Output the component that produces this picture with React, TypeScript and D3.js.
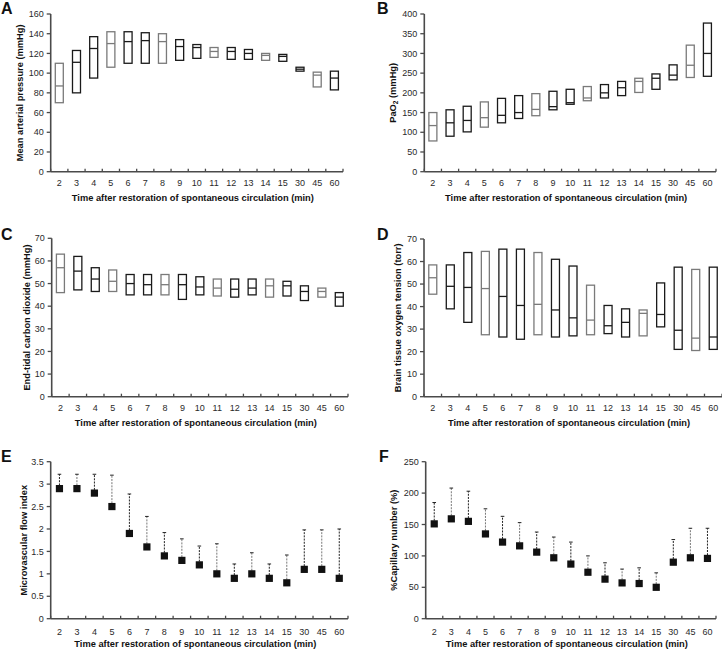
import React from "react";
import * as d3 from "d3";

const times = ["2", "3", "4", "5", "6", "7", "8", "9", "10", "11", "12", "13", "14", "15", "30", "45", "60"];

// A: Mean arterial pressure (mmHg) - box (low, median, high)
const mapLow = [70, 80, 95, 106, 110, 110, 110, 113, 115, 116, 114, 114, 113, 112, 102, 86, 83];
const mapMid = [87, 111, 125, 130, 132, 133, 132, 127, 126, 122, 122, 120, 118, 117, 104, 98, 95];
const mapHigh = [110, 123, 137, 142, 142, 141, 140, 134, 129, 126, 126, 124, 120, 119, 106, 101, 102];

// B: PaO2 (mmHg)
const paoLow = [78, 90, 101, 113, 124, 135, 142, 157, 171, 180, 187, 193, 201, 209, 233, 239, 242];
const paoMid = [117, 124, 130, 137, 143, 150, 158, 165, 175, 187, 200, 213, 229, 237, 245, 270, 300];
const paoHigh = [150, 157, 166, 177, 186, 193, 198, 204, 209, 216, 221, 229, 237, 248, 271, 321, 377];

// C: End-tidal carbon dioxide (mmHg)
const etLow = [46, 47.2, 46.5, 46.5, 45, 45, 45, 43, 45, 44.5, 44, 45, 44, 44.5, 42.5, 44, 40];
const etMid = [57, 55.5, 52, 51, 50, 49.5, 49.5, 49.5, 48.5, 48, 47.5, 48, 49, 49, 46.5, 46.5, 44];
const etHigh = [63, 62, 57, 56, 54, 54, 54, 54, 53, 52, 52, 52, 52, 51, 49, 48, 46];

// D: Brain tissue oxygen tension (torr)
const btLow = [45.5, 39, 33, 27.5, 26.5, 25.5, 27.5, 26.5, 27, 27.5, 28, 26.5, 27, 31, 21, 20.5, 21];
const btMid = [52.8, 49, 48.5, 48, 44.5, 40.5, 41, 38.5, 35, 34, 31.5, 33, 37, 36.5, 29.5, 26, 26.5];
const btHigh = [58.5, 58.5, 64, 64.5, 65.5, 65.5, 64, 61, 58, 49.5, 40.5, 39, 38.5, 50.5, 57.5, 56.5, 57.5];

// E: Microvascular flow index (mean, upper error)
const mfiMean = [2.9, 2.9, 2.8, 2.5, 1.9, 1.6, 1.4, 1.3, 1.2, 1.0, 0.9, 1.0, 0.9, 0.8, 1.1, 1.1, 0.9];
const mfiUpper = [3.22, 3.22, 3.22, 3.2, 2.78, 2.28, 1.92, 1.78, 1.62, 1.67, 1.22, 1.47, 1.22, 1.42, 1.98, 1.98, 2.0];

// F: %Capillary number (mean, upper error)
const capMean = [151, 159, 155, 135, 122, 116, 106, 97, 87, 74, 63, 57, 56, 50, 90, 97, 96];
const capUpper = [185, 208, 203, 175, 163, 153, 138, 130, 122, 100, 89, 79, 81, 73, 126, 144, 144];

const xTitle = "Time after restoration of spontaneous circulation (min)";
const FONT = "'Liberation Sans', Arial, Helvetica, sans-serif";

type PanelProps = {
  letter: string;
  letterX: number;
  letterY: number;
  left: number;
  right: number;
  top: number;
  bottom: number;
  max: number;
  step: number;
  yTitle: React.ReactNode;
  yTitleX: number;
  labelDy: number;
  titleDy: number;
  kind: "box" | "err";
  a: number[];
  b: number[];
  c?: number[];
};

function Panel(p: PanelProps) {
  const x = d3.scaleBand<string>().domain(times).range([p.left, p.right]);
  const y = d3.scaleLinear().domain([0, p.max]).range([p.bottom, p.top]);
  const ticks = d3.range(0, p.max + p.step / 2, p.step);
  const bw = x.bandwidth();
  const boxW = 8;
  const axisColor = "#4a4a4a";
  const textColor = "#2a2a2a";
  const cy = (p.top + p.bottom) / 2;
  return (
    <g fontFamily={FONT}>
      <text x={p.letterX} y={p.letterY} fontSize={16} fontWeight="bold" fill="#111">
        {p.letter}
      </text>
      {/* y axis */}
      <line x1={p.left} x2={p.left} y1={p.top} y2={p.bottom} stroke={axisColor} strokeWidth={1.6} />
      {ticks.map((t) => (
        <g key={t}>
          <line x1={p.left - 4} x2={p.left} y1={y(t)} y2={y(t)} stroke={axisColor} strokeWidth={1.3} />
          <text x={p.left - 7} y={y(t)} dy="0.35em" textAnchor="end" fontSize={9} fill={textColor}>
            {String(t)}
          </text>
        </g>
      ))}
      {/* x axis */}
      <line x1={p.left} x2={p.right} y1={p.bottom} y2={p.bottom} stroke={axisColor} strokeWidth={1.6} />
      {d3.range(times.length + 1).map((i) => (
        <line
          key={i}
          x1={p.left + i * bw}
          x2={p.left + i * bw}
          y1={p.bottom}
          y2={p.bottom - 3}
          stroke={axisColor}
          strokeWidth={1.3}
        />
      ))}
      {times.map((t) => (
        <text
          key={t}
          x={(x(t) as number) + bw / 2}
          y={p.bottom + p.labelDy}
          textAnchor="middle"
          fontSize={9}
          fill={textColor}
        >
          {t}
        </text>
      ))}
      <text
        x={(p.left + p.right) / 2 - 4}
        y={p.bottom + p.titleDy}
        textAnchor="middle"
        fontSize={9.3}
        fontWeight="bold"
        fill="#111"
      >
        {xTitle}
      </text>
      <text
        transform={`translate(${p.yTitleX},${cy}) rotate(-90)`}
        textAnchor="middle"
        fontSize={9.3}
        fontWeight="bold"
        fill="#111"
      >
        {p.yTitle}
      </text>
      {p.kind === "box"
        ? times.map((t, i) => {
            const cx = (x(t) as number) + bw / 2;
            const lo = y(p.a[i]);
            const md = y(p.b[i]);
            const hi = y((p.c as number[])[i]);
            const col = i % 3 === 0 ? "#7a7a7a" : "#1a1a1a";
            return (
              <g key={t} stroke={col} strokeWidth={1.3} fill="none">
                <rect x={cx - boxW / 2} y={hi} width={boxW} height={lo - hi} />
                <line x1={cx - boxW / 2} x2={cx + boxW / 2} y1={md} y2={md} />
              </g>
            );
          })
        : times.map((t, i) => {
            const cx = (x(t) as number) + bw / 2;
            const m = y(p.a[i]);
            const u = y(p.b[i]);
            const col = i % 2 === 0 ? "#222" : "#777";
            return (
              <g key={t}>
                <line x1={cx} x2={cx} y1={m} y2={u} stroke={col} strokeWidth={1} strokeDasharray="2,1.2" />
                <line x1={cx - 1.8} x2={cx + 1.8} y1={u} y2={u} stroke="#222" strokeWidth={1} />
                <rect x={cx - 3.6} y={m - 3.6} width={7.2} height={7.2} fill="#111" />
              </g>
            );
          })}
    </g>
  );
}

export default function App() {
  return (
    <svg width={722} height={650} style={{ position: "absolute", left: 0, top: 0, background: "#fff" }}>
      <rect x={0} y={0} width={722} height={650} fill="#fff" />
      <Panel
        letter="A" letterX={1} letterY={14}
        left={50.7} right={343} top={14} bottom={171.7} max={160} step={20}
        yTitle="Mean arterial pressure (mmHg)" yTitleX={23}
        labelDy={14} titleDy={29}
        kind="box" a={mapLow} b={mapMid} c={mapHigh}
      />
      <Panel
        letter="B" letterX={377} letterY={14}
        left={424.3} right={716} top={14} bottom={171.7} max={400} step={50}
        yTitle={<>PaO<tspan fontSize={6.5} dy={2}>2</tspan><tspan dy={-2}> (mmHg)</tspan></>} yTitleX={395.5}
        labelDy={14} titleDy={29}
        kind="box" a={paoLow} b={paoMid} c={paoHigh}
      />
      <Panel
        letter="C" letterX={1} letterY={240}
        left={51.7} right={348} top={238.3} bottom={396.7} max={70} step={10}
        yTitle="End-tidal carbon dioxide (mmHg)" yTitleX={29.5}
        labelDy={14} titleDy={29}
        kind="box" a={etLow} b={etMid} c={etHigh}
      />
      <Panel
        letter="D" letterX={377} letterY={240}
        left={424} right={722} top={239} bottom={396.7} max={70} step={10}
        yTitle="Brain tissue oxygen tension (torr)" yTitleX={401}
        labelDy={14} titleDy={29}
        kind="box" a={btLow} b={btMid} c={btHigh}
      />
      <Panel
        letter="E" letterX={1} letterY={462}
        left={50.7} right={348} top={461.7} bottom={618.7} max={3.5} step={0.5}
        yTitle="Microvascular flow index" yTitleX={27}
        labelDy={16} titleDy={28}
        kind="err" a={mfiMean} b={mfiUpper}
      />
      <Panel
        letter="F" letterX={379} letterY={462}
        left={425.7} right={716} top={461.7} bottom={618.7} max={250} step={50}
        yTitle="%Capillary number (%)" yTitleX={396.5}
        labelDy={16} titleDy={28}
        kind="err" a={capMean} b={capUpper}
      />
    </svg>
  );
}
